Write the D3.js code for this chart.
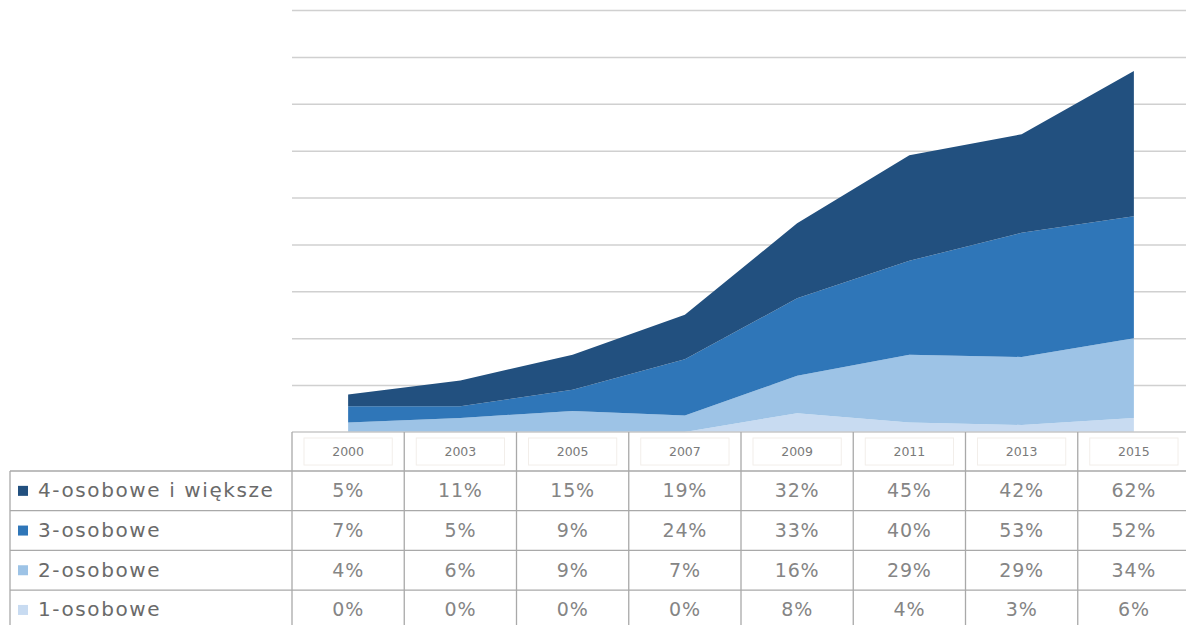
<!DOCTYPE html>
<html>
<head>
<meta charset="utf-8">
<script src="https://cdn.jsdelivr.net/npm/d3@7"></script>
<style>
html,body{margin:0;padding:0;background:#fff;}
svg{display:block;}
</style>
</head>
<body>
<svg id="c" width="1186" height="625"></svg>
<script>
const years = ["2000","2003","2005","2007","2009","2011","2013","2015"];
const seriesNames = ["4-osobowe i większe","3-osobowe","2-osobowe","1-osobowe"];
const s4 = [5,11,15,19,32,45,42,62];
const s3 = [7,5,9,24,33,40,53,52];
const s2 = [4,6,9,7,16,29,29,34];
const s1 = [0,0,0,0,8,4,3,6];
const colors = ["#22507f","#2f76b8","#9dc3e6","#c8dbf1"];
const yTicks = [0,20,40,60,80,100,120,140,160,180];

const svg = d3.select("#c");
const x = d3.scaleBand().domain(years).range([292, 1190]);
const y = d3.scaleLinear().domain([0,180]).range([432, 10]);

// gridlines
svg.append("g").selectAll("line").data(yTicks.slice(1)).join("line")
  .attr("x1", 292).attr("x2", 1186)
  .attr("y1", d => y(d)+0.5).attr("y2", d => y(d)+0.5)
  .attr("stroke", "#d0d0d0").attr("stroke-width", 1.5);

// stacked data
const seriesVals = [s4, s3, s2, s1];
const rows = years.map((yr, i) => ({year: yr, s1: s1[i], s2: s2[i], s3: s3[i], s4: s4[i]}));
const keys = ["s1","s2","s3","s4"];
const keyColor = {s4: colors[0], s3: colors[1], s2: colors[2], s1: colors[3]};
const stack = d3.stack().keys(keys)(rows);
const area = d3.area()
  .x(d => x(d.data.year) + x.bandwidth()/2)
  .y0(d => y(d[0])).y1(d => y(d[1]));
svg.append("g").selectAll("path").data(stack).join("path")
  .attr("d", area).attr("fill", d => keyColor[d.key]);

// table
const rowTop = 432, headH = 39, rowH = 39.7;
const tableLineColor = "#a9a9a9";
const tg = svg.append("g");
// header year labels
tg.selectAll("rect.hb").data(years).join("rect")
  .attr("x", d => x(d) + 12).attr("y", rowTop + 6)
  .attr("width", x.bandwidth() - 24).attr("height", headH - 12)
  .attr("fill", "none").attr("stroke", "#f2eeea").attr("stroke-width", 1);
tg.selectAll("text.yr").data(years).join("text")
  .attr("x", d => x(d) + x.bandwidth()/2).attr("y", rowTop + headH/2 + 1)
  .attr("text-anchor", "middle").attr("dominant-baseline", "middle")
  .attr("font-family", "DejaVu Sans, sans-serif").attr("font-size", 12.5)
  .attr("fill", "#7a7a7a").text(d => d);

// horizontal lines
const hLines = [0,1,2,3].map(i => rowTop + headH + i*rowH);
tg.selectAll("line.h").data(hLines).join("line")
  .attr("x1", 10).attr("x2", 1186)
  .attr("y1", d => d).attr("y2", d => d)
  .attr("stroke", tableLineColor).attr("stroke-width", 1.3);
// baseline
tg.append("line").attr("x1", 292).attr("x2", 1186).attr("y1", rowTop).attr("y2", rowTop)
  .attr("stroke", "#c8c8c8").attr("stroke-width", 1.3);
// vertical lines
const vx = years.map(d => x(d));
tg.selectAll("line.v").data(vx).join("line")
  .attr("x1", d => d).attr("x2", d => d)
  .attr("y1", rowTop).attr("y2", 625)
  .attr("stroke", tableLineColor).attr("stroke-width", 1.3);
tg.append("line").attr("x1", 10).attr("x2", 10).attr("y1", rowTop + headH).attr("y2", 625)
  .attr("stroke", tableLineColor).attr("stroke-width", 1.3);

// rows
seriesNames.forEach((name, r) => {
  const cy = rowTop + headH + r*rowH + rowH/2;
  tg.append("rect").attr("x", 18).attr("y", cy - 5).attr("width", 10).attr("height", 10)
    .attr("fill", colors[r]);
  tg.append("text").attr("x", 38).attr("y", cy + 1)
    .attr("dominant-baseline", "middle")
    .attr("font-family", "DejaVu Sans, sans-serif").attr("font-size", 20)
    .attr("letter-spacing", 1.6)
    .attr("fill", "#6a6a6a").text(name);
  tg.selectAll("text.v" + r).data(seriesVals[r]).join("text")
    .attr("x", (d, i) => x(years[i]) + x.bandwidth()/2).attr("y", cy + 1)
    .attr("text-anchor", "middle").attr("dominant-baseline", "middle")
    .attr("font-family", "DejaVu Sans, sans-serif").attr("font-size", 19)
    .attr("letter-spacing", 0.8)
    .attr("fill", "#858585").text(d => d + "%");
});
</script>
</body>
</html>
